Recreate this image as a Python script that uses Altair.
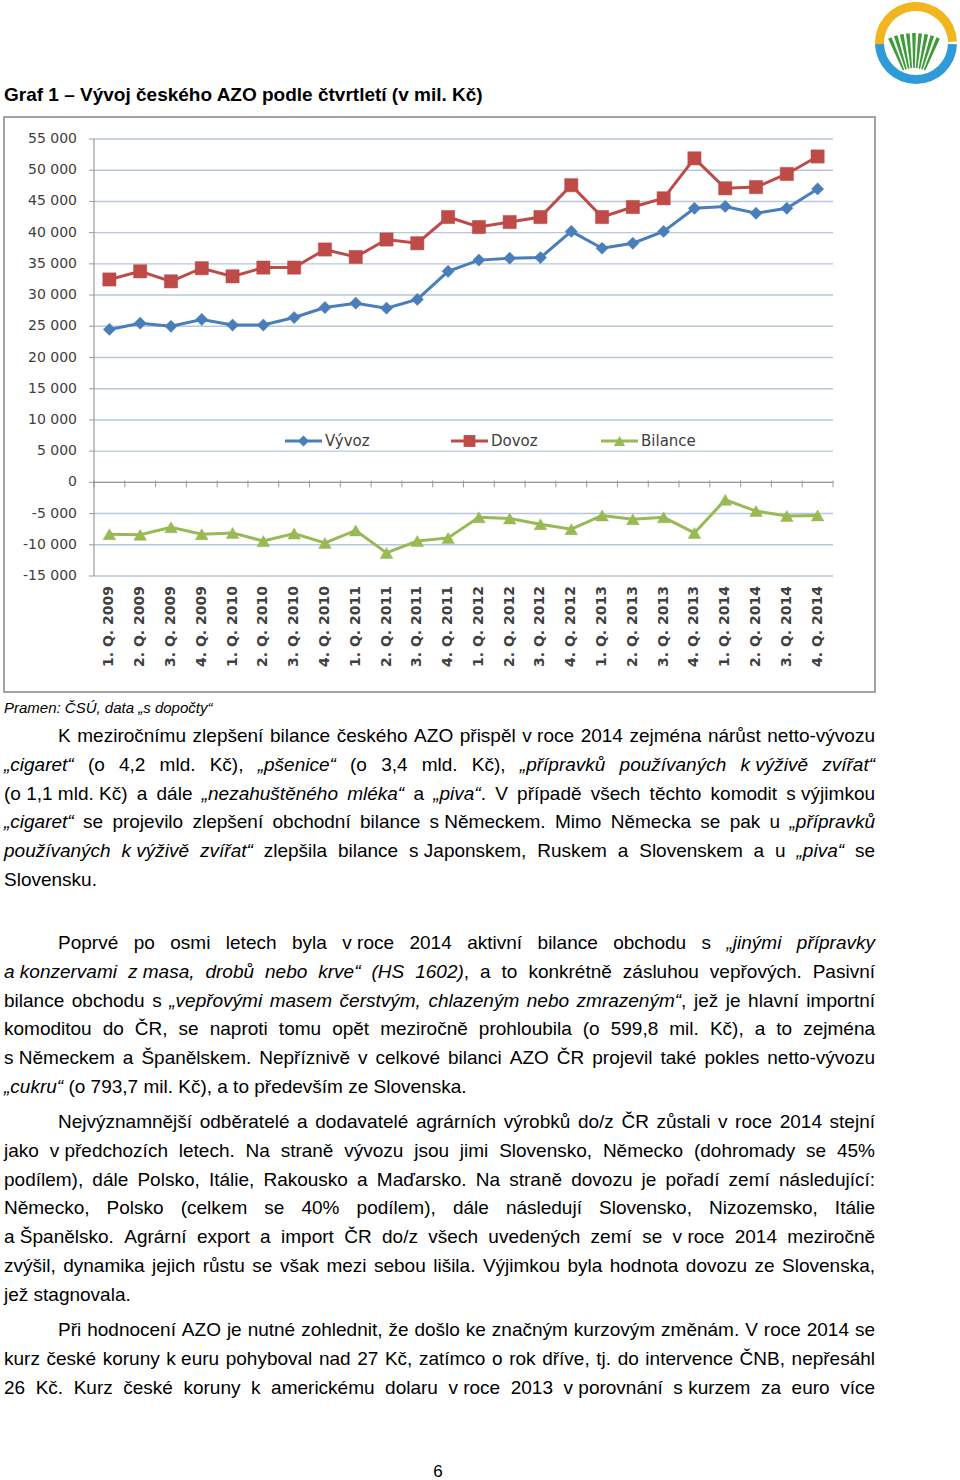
import unicodedata
import altair as alt
import pandas as pd

# ---------------- data ----------------
quarters = ["1. Q. 2009", "2. Q. 2009", "3. Q. 2009", "4. Q. 2009",
            "1. Q. 2010", "2. Q. 2010", "3. Q. 2010", "4. Q. 2010",
            "1. Q. 2011", "2. Q. 2011", "3. Q. 2011", "4. Q. 2011",
            "1. Q. 2012", "2. Q. 2012", "3. Q. 2012", "4. Q. 2012",
            "1. Q. 2013", "2. Q. 2013", "3. Q. 2013", "4. Q. 2013",
            "1. Q. 2014", "2. Q. 2014", "3. Q. 2014", "4. Q. 2014"]
vyvoz = [24500, 25500, 25000, 26100, 25200, 25200, 26400, 28000,
         28700, 27900, 29300, 33800, 35600, 35900, 36000, 40200,
         37500, 38300, 40200, 43900, 44200, 43100, 43900, 47000]
dovoz = [32500, 33800, 32200, 34300, 33000, 34400, 34400, 37300,
         36100, 38900, 38300, 42500, 40900, 41700, 42500, 47600,
         42500, 44100, 45500, 51900, 47100, 47300, 49400, 52200]
bilance = [-8300, -8400, -7200, -8300, -8100, -9400, -8200, -9700,
           -7700, -11300, -9400, -8900, -5600, -5800, -6700, -7500,
           -5300, -5900, -5600, -8100, -2800, -4600, -5400, -5300]
series = ["Vývoz", "Dovoz", "Bilance"]
y_ticks = [-15000, -10000, -5000, 0, 5000, 10000, 15000, 20000,
           25000, 30000, 35000, 40000, 45000, 50000, 55000]
y_tick_labels = ["-15 000", "-10 000", "-5 000", "0", "5 000", "10 000", "15 000", "20 000",
                 "25 000", "30 000", "35 000", "40 000", "45 000", "50 000", "55 000"]

title_text = "Graf 1 – Vývoj českého AZO podle čtvrtletí (v mil. Kč)"
source_text = "Pramen: ČSÚ, data „s dopočty“"
page_number = "6"

par1 = [
    "K meziročnímu zlepšení bilance českého AZO přispěl v~roce 2014 zejména nárůst netto-vývozu",
    "*„cigaret“* (o 4,2 mld. Kč), *„pšenice“* (o 3,4 mld. Kč), *„přípravků používaných k~výživě zvířat“*",
    "(o~1,1~mld.~Kč) a dále *„nezahuštěného mléka“* a *„piva“*. V případě všech těchto komodit s~výjimkou",
    "*„cigaret“* se projevilo zlepšení obchodní bilance s~Německem. Mimo Německa se pak u *„přípravků*",
    "*používaných k~výživě zvířat“* zlepšila bilance s~Japonskem, Ruskem a Slovenskem a u *„piva“* se",
    "Slovensku.",
]
par2 = [
    "Poprvé po osmi letech byla v~roce 2014 aktivní bilance obchodu s *„jinými přípravky*",
    "*a~konzervami z~masa, drobů nebo krve“ (HS 1602)*, a to konkrétně zásluhou vepřových. Pasivní",
    "bilance obchodu s *„vepřovými masem čerstvým, chlazeným nebo zmrazeným“*, jež je hlavní importní",
    "komoditou do ČR, se naproti tomu opět meziročně prohloubila (o 599,8 mil. Kč), a to zejména",
    "s~Německem a Španělskem. Nepříznivě v celkové bilanci AZO ČR projevil také pokles netto-vývozu",
    "*„cukru“* (o 793,7 mil. Kč), a to především ze Slovenska.",
]
par3 = [
    "Nejvýznamnější odběratelé a dodavatelé agrárních výrobků do/z ČR zůstali v roce 2014 stejní",
    "jako v~předchozích letech. Na straně vývozu jsou jimi Slovensko, Německo (dohromady se 45%",
    "podílem), dále Polsko, Itálie, Rakousko a Maďarsko. Na straně dovozu je pořadí zemí následující:",
    "Německo, Polsko (celkem se 40% podílem), dále následují Slovensko, Nizozemsko, Itálie",
    "a~Španělsko. Agrární export a import ČR do/z všech uvedených zemí se v~roce 2014 meziročně",
    "zvýšil, dynamika jejich růstu se však mezi sebou lišila. Výjimkou byla hodnota dovozu ze Slovenska,",
    "jež stagnovala.",
]
par4 = [
    "Při hodnocení AZO je nutné zohlednit, že došlo ke značným kurzovým změnám. V roce 2014 se",
    "kurz české koruny k~euru pohyboval nad 27 Kč, zatímco o rok dříve, tj. do intervence ČNB, nepřesáhl",
    "26 Kč. Kurz české koruny k americkému dolaru v~roce 2013 v~porovnání s~kurzem za euro více",
]

# ---------------- styles / layout ----------------
colors = ["#4a7ebb", "#be4b48", "#98b954"]
shapes = ["diamond", "square", "triangle-up"]
sizes = [150, 175, 160]
AXIS_FONT = "DejaVu Sans"
LABEL_COLOR = "#404040"
BODY_FONT = "Liberation Sans"
BODY_SIZE = 19
LINE_STEP = 28.8
TEXT_LEFT, TEXT_RIGHT, INDENT = 4, 875, 58
PLOT_L, PLOT_R = 94, 833

XS = alt.Scale(type="band", domain=quarters, range=[PLOT_L, PLOT_R], paddingInner=0, paddingOuter=0)
YS = alt.Scale(domain=[-15000, 55000], range=[576, 139], nice=False, zero=False)
CS = alt.Scale(domain=series, range=colors)

long_rows = []
for s, vals in zip(series, [vyvoz, dovoz, bilance]):
    for q, v in zip(quarters, vals):
        long_rows.append({"q": q, "s": s, "v": v})
df = pd.DataFrame(long_rows)

layers = []

# chart frame
frame = alt.Chart(pd.DataFrame({"a": [0]})).mark_rect(
    fill="white", stroke="#a3a3a3", strokeWidth=2
).encode(x=alt.value(4), x2=alt.value(875), y=alt.value(117), y2=alt.value(692))
layers.append(frame)

grid_df = pd.DataFrame({"v": y_ticks, "label": y_tick_labels})
grid = alt.Chart(grid_df).mark_rule(color="#b9c7db", strokeWidth=1.4).encode(
    y=alt.Y("v:Q", scale=YS, axis=None), x=alt.value(PLOT_L), x2=alt.value(PLOT_R))
layers.append(grid)

yticks = alt.Chart(grid_df).mark_rule(color="#9a9a9a", strokeWidth=1).encode(
    y=alt.Y("v:Q", scale=YS, axis=None), x=alt.value(PLOT_L - 5), x2=alt.value(PLOT_L))
layers.append(yticks)

ylabels = alt.Chart(grid_df).mark_text(
    align="right", baseline="middle", font=AXIS_FONT, fontSize=14, color=LABEL_COLOR
).encode(y=alt.Y("v:Q", scale=YS, axis=None), x=alt.value(77), text="label:N")
layers.append(ylabels)

yaxis = alt.Chart(pd.DataFrame({"lo": [y_ticks[0]], "hi": [y_ticks[-1]]})).mark_rule(
    color="#9a9a9a", strokeWidth=1.2
).encode(y=alt.Y("lo:Q", scale=YS, axis=None), y2="hi:Q", x=alt.value(PLOT_L))
layers.append(yaxis)

xaxis = alt.Chart(pd.DataFrame({"v": [0]})).mark_rule(color="#9a9a9a", strokeWidth=1.2).encode(
    y=alt.Y("v:Q", scale=YS, axis=None), x=alt.value(PLOT_L), x2=alt.value(PLOT_R))
layers.append(xaxis)

qdf = pd.DataFrame({"q": quarters, "top": [300] * len(quarters), "bot": [-800] * len(quarters)})
xticks = alt.Chart(qdf).mark_rule(color="#9a9a9a", strokeWidth=1).encode(
    x=alt.X("q:N", scale=XS, axis=None, bandPosition=0),
    y=alt.Y("top:Q", scale=YS, axis=None), y2="bot:Q")
layers.append(xticks)
xtick_last = alt.Chart(qdf.tail(1)).mark_rule(color="#9a9a9a", strokeWidth=1).encode(
    x=alt.X("q:N", scale=XS, axis=None, bandPosition=1),
    y=alt.Y("top:Q", scale=YS, axis=None), y2="bot:Q")
layers.append(xtick_last)

xlabels = alt.Chart(qdf).mark_text(
    angle=270, align="right", baseline="middle", font=AXIS_FONT, fontSize=14,
    fontWeight="bold", color=LABEL_COLOR
).encode(x=alt.X("q:N", scale=XS, axis=None, bandPosition=0.5), y=alt.value(586), text="q:N")
layers.append(xlabels)

# data lines and markers
lines = alt.Chart(df).mark_line(strokeWidth=3).encode(
    x=alt.X("q:N", scale=XS, axis=None, bandPosition=0.5),
    y=alt.Y("v:Q", scale=YS, axis=None),
    color=alt.Color("s:N", scale=CS, legend=None))
layers.append(lines)
for s, col, shp, sz in zip(series, colors, shapes, sizes):
    pts = alt.Chart(df[df.s == s]).mark_point(
        filled=True, opacity=1, shape=shp, size=sz, color=col, stroke=col, strokeWidth=0.5
    ).encode(x=alt.X("q:N", scale=XS, axis=None, bandPosition=0.5),
             y=alt.Y("v:Q", scale=YS, axis=None))
    layers.append(pts)

# legend (line + marker + label)
legend_left = [285, 451, 601]
LEG_Y = 441
for s, col, shp, sz, lx in zip(series, colors, shapes, sizes, legend_left):
    one = pd.DataFrame({"s": [s]})
    layers.append(alt.Chart(one).mark_rule(color=col, strokeWidth=3).encode(
        x=alt.value(lx), x2=alt.value(lx + 37), y=alt.value(LEG_Y)))
    layers.append(alt.Chart(one).mark_point(filled=True, opacity=1, shape=shp, size=sz * 0.8, color=col).encode(
        x=alt.value(lx + 18.5), y=alt.value(LEG_Y)))
    layers.append(alt.Chart(one).mark_text(
        align="left", baseline="middle", font=AXIS_FONT, fontSize=15, color=LABEL_COLOR
    ).encode(x=alt.value(lx + 40), y=alt.value(LEG_Y), text="s:N"))

# ---------------- page text ----------------
AR = {" ": 278, "!": 278, '"': 355, "%": 889, "(": 333, ")": 333, ",": 278, "-": 333,
      ".": 278, "/": 278, ":": 278, ";": 278, "–": 556, "„": 333, "“": 333,
      "í": 278, "Í": 278, "ď": 615, "ť": 367}
for d in "0123456789":
    AR[d] = 556
AR.update({"A": 667, "B": 667, "C": 722, "D": 722, "E": 667, "F": 611, "G": 778, "H": 722,
           "I": 278, "J": 500, "K": 667, "L": 556, "M": 833, "N": 722, "O": 778, "P": 667,
           "Q": 778, "R": 722, "S": 667, "T": 611, "U": 722, "V": 667, "W": 944, "X": 667,
           "Y": 667, "Z": 611,
           "a": 556, "b": 556, "c": 500, "d": 556, "e": 556, "f": 278, "g": 556, "h": 556,
           "i": 222, "j": 222, "k": 500, "l": 222, "m": 833, "n": 556, "o": 556, "p": 556,
           "q": 556, "r": 333, "s": 500, "t": 278, "u": 556, "v": 500, "w": 722, "x": 500,
           "y": 500, "z": 500})


def char_w(ch):
    if ch in AR:
        return AR[ch]
    base = unicodedata.normalize("NFD", ch)[0]
    return AR.get(base, 556)


def text_w(s, size):
    return sum(char_w(c) for c in s) * size / 1000.0


def parse_words(line):
    words, cur, buf, ital = [], [], "", False
    for ch in line:
        if ch == "*":
            if buf:
                cur.append((buf, ital))
                buf = ""
            ital = not ital
        elif ch == " ":
            if buf:
                cur.append((buf, ital))
                buf = ""
            if cur:
                words.append(cur)
                cur = []
        else:
            buf += " " if ch == "~" else ch
    if buf:
        cur.append((buf, ital))
    if cur:
        words.append(cur)
    return words


word_rows = []


def layout_line(line, x0, x1, y, justify):
    words = parse_words(line)
    widths = [sum(text_w(t, BODY_SIZE) for t, _ in w) for w in words]
    gap = text_w(" ", BODY_SIZE)
    if justify and len(words) > 1:
        gap = (x1 - x0 - sum(widths)) / (len(words) - 1)
    x = x0
    for w, ww in zip(words, widths):
        px = x
        for t, it in w:
            word_rows.append({"x": px, "y": y, "t": t, "it": it})
            px += text_w(t, BODY_SIZE)
        x += ww + gap


paragraphs = [(par1, 736, False), (par2, 943, False), (par3, 1122, False), (par4, 1330, True)]
for lines_, y0, last_just in paragraphs:
    for i, ln in enumerate(lines_):
        x0 = TEXT_LEFT + (INDENT - TEXT_LEFT if i == 0 else 0)
        is_last = i == len(lines_) - 1
        layout_line(ln, x0, TEXT_RIGHT, y0 + i * LINE_STEP, (not is_last) or last_just)

wdf = pd.DataFrame(word_rows)
for it, style in [(False, "normal"), (True, "italic")]:
    layers.append(alt.Chart(wdf[wdf.it == it]).mark_text(
        align="left", baseline="middle", font=BODY_FONT, fontSize=BODY_SIZE,
        fontStyle=style, color="black"
    ).encode(x=alt.X("x:Q", scale=None, axis=None), y=alt.Y("y:Q", scale=None, axis=None), text="t:N"))

layers.append(alt.Chart(pd.DataFrame({"t": [title_text]})).mark_text(
    align="left", baseline="middle", font=BODY_FONT, fontSize=19, fontWeight="bold", color="black"
).encode(x=alt.value(4), y=alt.value(95), text="t:N"))

layers.append(alt.Chart(pd.DataFrame({"t": [source_text]})).mark_text(
    align="left", baseline="middle", font=BODY_FONT, fontSize=15, fontStyle="italic", color="black"
).encode(x=alt.value(4), y=alt.value(708), text="t:N"))

layers.append(alt.Chart(pd.DataFrame({"t": [page_number]})).mark_text(
    align="center", baseline="middle", font=BODY_FONT, fontSize=17, color="black"
).encode(x=alt.value(438), y=alt.value(1472), text="t:N"))

# ---------------- logo (decoration) ----------------
LX, LY = 916, 43
one = pd.DataFrame({"a": [0]})
layers.append(alt.Chart(one).mark_arc(color="#f1b51f", theta=4.6, theta2=7.82, radius=41, radius2=32).encode(
    x=alt.value(LX), y=alt.value(LY)))
layers.append(alt.Chart(one).mark_arc(color="#2e9bd8", theta=1.6, theta2=4.68, radius=41, radius2=32).encode(
    x=alt.value(LX), y=alt.value(LY)))
for k in range(-4, 5):
    c = 6.2832 + k * 0.1
    layers.append(alt.Chart(one).mark_arc(color="#3f9a3a", theta=c - 0.03, theta2=c + 0.03,
                                          radius=62, radius2=27).encode(
        x=alt.value(LX - 2), y=alt.value(95)))

chart = alt.layer(*layers).resolve_scale(
    x="independent", y="independent", color="independent"
).properties(
    width=960, height=1480, autosize=alt.AutoSizeParams(type="none"), padding=0
).configure(background="white").configure_view(stroke=None)

chart.save("out.html", embed_options={"renderer": "svg", "actions": False})
